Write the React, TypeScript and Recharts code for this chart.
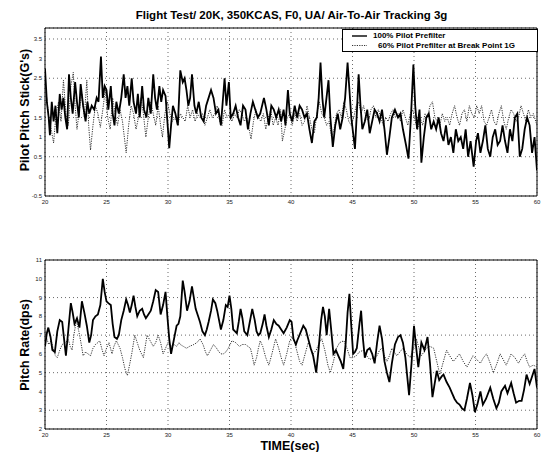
import { LineChart, Line, XAxis, YAxis, CartesianGrid, ReferenceArea } from "recharts";

type Pt = [number, number];

const timeTicks = [20, 25, 30, 35, 40, 45, 50, 55, 60];
const stickTicks = [-0.5, 0, 0.5, 1, 1.5, 2, 2.5, 3, 3.5];
const rateTicks = [2, 3, 4, 5, 6, 7, 8, 9, 10, 11];

// pilot pitch stick, 100% prefilter (solid)
const stick100: Pt[] = [
  [20.0, 2.75], [20.15, 1.9], [20.3, 1.5], [20.4, 1.05], [20.55, 1.9], [20.7, 1.4], [20.85, 1.8], [21.0, 1.1],
  [21.2, 2.1], [21.35, 1.7], [21.5, 2.0], [21.65, 1.5], [21.8, 1.2], [21.95, 2.6], [22.1, 2.0], [22.25, 1.6],
  [22.45, 2.4], [22.6, 1.9], [22.75, 1.5], [22.9, 2.35], [23.1, 1.8], [23.3, 1.4], [23.45, 1.9], [23.6, 1.6],
  [23.8, 1.8], [24.0, 1.7], [24.2, 2.0], [24.35, 1.9], [24.55, 3.05], [24.7, 2.0], [24.85, 2.3], [25.0, 2.2],
  [25.15, 1.7], [25.35, 2.3], [25.5, 1.6], [25.65, 1.3], [25.8, 1.9], [26.0, 1.6], [26.2, 2.0], [26.4, 2.6],
  [26.55, 2.0], [26.7, 2.3], [26.85, 1.8], [27.05, 2.5], [27.2, 1.9], [27.4, 1.6], [27.55, 2.1], [27.7, 1.5],
  [27.9, 2.3], [28.05, 1.7], [28.25, 1.5], [28.4, 2.0], [28.6, 1.6], [28.8, 2.6], [28.95, 2.0], [29.1, 1.7],
  [29.3, 2.3], [29.45, 1.9], [29.6, 2.2], [29.8, 2.05], [29.95, 1.4], [30.1, 0.72], [30.25, 1.3], [30.4, 1.8],
  [30.6, 1.6], [30.8, 1.3], [31.0, 2.7], [31.2, 2.4], [31.35, 2.5], [31.5, 2.2], [31.65, 1.8], [31.8, 2.0],
  [31.95, 2.6], [32.15, 1.8], [32.3, 1.6], [32.5, 1.9], [32.7, 1.5], [32.9, 1.4], [33.1, 1.8], [33.3, 2.0],
  [33.5, 2.2], [33.7, 2.0], [33.9, 1.6], [34.1, 1.7], [34.3, 1.3], [34.45, 1.9], [34.6, 2.5], [34.75, 1.8],
  [34.95, 2.4], [35.1, 1.5], [35.3, 1.6], [35.5, 1.8], [35.7, 1.5], [35.9, 1.3], [36.1, 1.8], [36.3, 1.7],
  [36.5, 1.2], [36.7, 1.6], [36.9, 1.9], [37.1, 1.7], [37.3, 1.5], [37.5, 1.6], [37.8, 2.0], [38.0, 1.7],
  [38.2, 1.3], [38.4, 1.8], [38.6, 1.7], [38.8, 1.5], [39.0, 1.7], [39.2, 1.4], [39.4, 1.7], [39.55, 1.3],
  [39.75, 2.2], [39.9, 1.6], [40.1, 1.4], [40.3, 1.8], [40.5, 1.5], [40.7, 1.8], [40.9, 1.7], [41.1, 1.5],
  [41.3, 1.6], [41.5, 1.2], [41.7, 0.85], [41.9, 1.4], [42.1, 1.5], [42.25, 2.0], [42.4, 2.9], [42.55, 2.0],
  [42.7, 1.5], [42.85, 1.9], [43.05, 2.45], [43.2, 1.5], [43.4, 0.75], [43.6, 1.3], [43.8, 1.6], [44.0, 1.2],
  [44.2, 1.5], [44.4, 2.0], [44.6, 2.9], [44.75, 2.2], [44.9, 1.5], [45.05, 1.1], [45.2, 0.7], [45.35, 1.6],
  [45.5, 2.6], [45.65, 1.8], [45.8, 1.2], [46.0, 1.4], [46.2, 1.7], [46.4, 1.1], [46.6, 1.4], [46.8, 1.7],
  [47.0, 1.6], [47.2, 1.4], [47.4, 1.7], [47.6, 1.2], [47.8, 0.55], [48.0, 1.0], [48.2, 1.5], [48.45, 1.7],
  [48.7, 1.5], [48.9, 1.6], [49.1, 1.2], [49.35, 0.8], [49.55, 0.45], [49.75, 1.5], [49.95, 2.85], [50.1, 1.8],
  [50.25, 1.2], [50.45, 1.7], [50.6, 0.35], [50.8, 1.0], [51.0, 1.5], [51.2, 1.6], [51.4, 1.2], [51.6, 1.4],
  [51.8, 1.2], [52.0, 1.5], [52.2, 1.1], [52.4, 0.9], [52.6, 1.3], [52.8, 0.8], [53.0, 1.0], [53.2, 0.6],
  [53.4, 1.2], [53.6, 0.9], [53.8, 1.0], [54.0, 0.7], [54.2, 1.2], [54.4, 0.5], [54.6, 0.9], [54.85, 0.25],
  [55.05, 0.9], [55.2, 1.1], [55.4, 0.6], [55.6, 0.9], [55.8, 1.3], [56.0, 0.7], [56.2, 0.5], [56.4, 1.0],
  [56.6, 1.2], [56.8, 0.8], [57.0, 0.9], [57.2, 1.3], [57.4, 0.9], [57.6, 0.6], [57.8, 1.2], [58.0, 0.9],
  [58.2, 1.5], [58.4, 1.6], [58.6, 0.5], [58.8, 0.7], [59.0, 1.2], [59.2, 1.5], [59.4, 1.3], [59.6, 0.6],
  [59.8, 1.0], [60.0, 0.15],
];

// pilot pitch stick, 60% prefilter at break point 1G (dotted)
const stick60: Pt[] = [
  [20.0, 1.8], [20.15, 2.0], [20.3, 1.5], [20.5, 1.2], [20.7, 0.85], [20.9, 1.6], [21.1, 1.9], [21.3, 1.4],
  [21.5, 2.45], [21.7, 1.6], [21.9, 1.3], [22.1, 2.3], [22.3, 2.65], [22.45, 1.8], [22.6, 1.2], [22.8, 1.7],
  [23.0, 2.1], [23.2, 1.5], [23.4, 2.45], [23.55, 1.3], [23.7, 0.67], [23.9, 1.3], [24.1, 1.8], [24.3, 1.6],
  [24.5, 1.25], [24.7, 1.7], [24.9, 2.2], [25.1, 1.5], [25.3, 1.2], [25.5, 2.0], [25.7, 1.6], [25.9, 1.3],
  [26.1, 1.7], [26.3, 1.4], [26.45, 1.0], [26.6, 0.6], [26.8, 1.3], [27.0, 1.8], [27.2, 1.6], [27.4, 1.2],
  [27.6, 1.5], [27.8, 2.0], [28.0, 1.6], [28.2, 1.0], [28.4, 1.5], [28.6, 1.9], [28.8, 1.6], [29.0, 1.3],
  [29.2, 1.8], [29.4, 1.3], [29.55, 1.0], [29.75, 1.6], [29.95, 1.9], [30.15, 1.6], [30.35, 1.4], [30.6, 1.5],
  [30.8, 1.3], [31.0, 1.6], [31.2, 1.5], [31.4, 1.4], [31.6, 1.8], [31.8, 1.5], [32.0, 1.7], [32.2, 1.4],
  [32.4, 1.6], [32.6, 1.5], [32.8, 1.6], [33.0, 1.3], [33.2, 1.5], [33.4, 1.7], [33.6, 1.5], [33.8, 1.6],
  [34.0, 1.8], [34.2, 1.4], [34.4, 1.3], [34.6, 1.7], [34.8, 1.5], [35.0, 1.6], [35.2, 1.4], [35.4, 1.6],
  [35.6, 1.5], [35.8, 1.7], [36.0, 1.6], [36.2, 1.4], [36.4, 1.5], [36.6, 1.2], [36.75, 0.95], [36.95, 1.4],
  [37.15, 1.7], [37.35, 1.5], [37.55, 1.4], [37.75, 1.6], [37.95, 1.2], [38.15, 1.5], [38.35, 1.7], [38.55, 1.3],
  [38.75, 1.5], [38.95, 1.3], [39.15, 1.7], [39.3, 0.9], [39.5, 1.2], [39.7, 1.5], [39.9, 1.6], [40.1, 1.3],
  [40.3, 1.6], [40.5, 1.4], [40.7, 1.6], [40.9, 1.3], [41.1, 1.4], [41.3, 1.8], [41.5, 1.5], [41.7, 1.2],
  [41.9, 1.1], [42.1, 1.6], [42.3, 1.9], [42.5, 1.6], [42.7, 1.5], [42.9, 1.3], [43.1, 1.4], [43.3, 1.0],
  [43.5, 1.2], [43.7, 1.6], [43.9, 1.7], [44.1, 1.5], [44.3, 1.9], [44.5, 1.7], [44.7, 1.4], [44.9, 1.3],
  [45.1, 1.5], [45.3, 1.8], [45.5, 1.9], [45.7, 1.6], [45.9, 1.8], [46.1, 1.5], [46.3, 1.4], [46.5, 1.7],
  [46.7, 1.8], [46.9, 1.5], [47.1, 1.7], [47.3, 1.5], [47.5, 1.3], [47.7, 1.5], [47.9, 1.4], [48.1, 1.6],
  [48.3, 1.7], [48.5, 1.5], [48.7, 1.6], [48.9, 1.4], [49.1, 1.7], [49.3, 1.5], [49.5, 1.3], [49.7, 1.6],
  [49.9, 1.7], [50.1, 1.4], [50.3, 1.2], [50.5, 1.5], [50.7, 1.3], [50.9, 1.6], [51.1, 1.5], [51.3, 1.8],
  [51.5, 1.9], [51.7, 1.5], [51.9, 1.4], [52.1, 1.3], [52.3, 1.6], [52.5, 1.4], [52.7, 1.5], [52.9, 1.3],
  [53.1, 1.6], [53.3, 1.8], [53.5, 1.5], [53.7, 1.3], [53.9, 1.6], [54.1, 1.7], [54.3, 1.4], [54.5, 1.8],
  [54.7, 1.6], [54.9, 1.5], [55.1, 1.8], [55.3, 1.6], [55.5, 1.8], [55.7, 1.4], [55.9, 1.3], [56.1, 1.5],
  [56.3, 1.7], [56.5, 1.4], [56.7, 1.3], [56.9, 1.6], [57.1, 1.8], [57.3, 1.4], [57.5, 1.2], [57.7, 1.5],
  [57.9, 1.7], [58.1, 1.6], [58.3, 1.4], [58.5, 1.5], [58.7, 1.8], [58.9, 1.6], [59.1, 1.4], [59.3, 1.7],
  [59.5, 1.5], [59.7, 1.6], [59.9, 1.4], [60.0, 1.3],
];

// pitch rate, 100% prefilter (solid)
const rate100: Pt[] = [
  [20.0, 6.4], [20.15, 7.1], [20.27, 7.4], [20.45, 6.9], [20.6, 6.2], [20.8, 6.1], [21.0, 7.2], [21.2, 7.8],
  [21.4, 7.7], [21.55, 6.8], [21.7, 5.9], [21.9, 7.3], [22.1, 8.7], [22.25, 8.2], [22.4, 7.6], [22.6, 7.9],
  [22.8, 7.4], [23.0, 8.8], [23.2, 8.2], [23.4, 7.5], [23.6, 6.6], [23.75, 7.0], [23.9, 7.8], [24.1, 8.0],
  [24.3, 8.1], [24.5, 8.6], [24.7, 10.0], [24.85, 9.3], [25.0, 8.8], [25.15, 8.7], [25.35, 8.6], [25.5, 7.6],
  [25.65, 6.9], [25.85, 6.8], [26.0, 7.0], [26.2, 7.8], [26.4, 8.3], [26.6, 8.9], [26.75, 8.6], [26.9, 8.2],
  [27.05, 8.6], [27.2, 9.1], [27.35, 8.5], [27.5, 8.0], [27.7, 8.3], [27.9, 8.4], [28.05, 8.1], [28.2, 7.9],
  [28.4, 8.1], [28.6, 8.3], [28.8, 8.8], [29.0, 9.4], [29.2, 9.3], [29.4, 8.1], [29.6, 8.6], [29.8, 9.3],
  [29.95, 8.0], [30.1, 6.8], [30.25, 6.0], [30.4, 6.5], [30.55, 7.0], [30.7, 7.5], [30.85, 7.6], [31.0, 8.0],
  [31.2, 9.9], [31.35, 9.3], [31.55, 8.3], [31.75, 8.8], [31.95, 9.6], [32.1, 9.0], [32.25, 8.4], [32.45, 8.0],
  [32.6, 7.7], [32.8, 7.2], [33.0, 7.0], [33.15, 7.3], [33.3, 7.7], [33.5, 8.3], [33.65, 8.9], [33.85, 8.7],
  [34.0, 8.3], [34.15, 7.8], [34.3, 7.3], [34.5, 7.8], [34.7, 8.6], [34.85, 8.5], [35.0, 9.1], [35.15, 8.4],
  [35.3, 7.3], [35.45, 7.2], [35.6, 7.1], [35.75, 7.7], [35.9, 8.4], [36.05, 7.9], [36.2, 7.2], [36.45, 7.0],
  [36.65, 7.7], [36.85, 8.4], [37.05, 7.8], [37.2, 7.2], [37.35, 7.0], [37.5, 7.1], [37.7, 7.6], [37.85, 8.1],
  [38.0, 7.5], [38.2, 6.9], [38.4, 7.3], [38.6, 7.8], [38.8, 7.6], [39.0, 7.5], [39.2, 7.3], [39.4, 7.1],
  [39.65, 7.4], [39.9, 7.8], [40.05, 7.7], [40.2, 6.8], [40.4, 6.5], [40.5, 6.7], [40.75, 7.1], [41.0, 7.5],
  [41.2, 7.3], [41.4, 6.8], [41.6, 6.3], [41.8, 5.9], [42.05, 5.0], [42.25, 6.3], [42.45, 7.8], [42.6, 8.5],
  [42.75, 8.0], [42.9, 7.0], [43.1, 8.4], [43.25, 7.4], [43.45, 6.0], [43.65, 6.2], [43.85, 5.9], [44.05, 5.6],
  [44.25, 5.2], [44.45, 6.6], [44.6, 8.2], [44.75, 9.2], [44.9, 7.5], [45.05, 6.0], [45.2, 6.1], [45.35, 6.3],
  [45.55, 7.5], [45.7, 8.3], [45.85, 6.8], [46.0, 5.8], [46.2, 6.2], [46.4, 6.3], [46.6, 6.0], [46.8, 5.5],
  [47.0, 6.6], [47.2, 7.5], [47.4, 6.8], [47.6, 5.6], [47.8, 5.0], [48.0, 4.5], [48.2, 5.5], [48.45, 6.5],
  [48.7, 6.9], [48.9, 7.0], [49.1, 6.6], [49.3, 5.8], [49.45, 4.8], [49.6, 3.8], [49.8, 5.5], [50.0, 7.5],
  [50.15, 6.5], [50.35, 5.3], [50.6, 6.6], [50.85, 6.2], [51.1, 6.9], [51.3, 5.5], [51.5, 3.7], [51.7, 4.5],
  [51.85, 5.1], [52.05, 4.6], [52.25, 4.8], [52.4, 4.9], [52.65, 4.5], [52.9, 4.2], [53.1, 3.9], [53.3, 3.6],
  [53.5, 3.4], [53.7, 3.3], [53.9, 3.1], [54.1, 3.0], [54.3, 3.6], [54.55, 4.45], [54.75, 3.8], [54.95, 2.9],
  [55.15, 3.3], [55.4, 4.0], [55.6, 3.3], [55.85, 3.6], [56.2, 4.2], [56.45, 3.6], [56.7, 3.1], [56.9, 3.4],
  [57.1, 4.0], [57.4, 4.3], [57.6, 3.9], [57.9, 4.45], [58.1, 3.9], [58.3, 3.4], [58.55, 3.5], [58.75, 3.5],
  [58.95, 4.1], [59.15, 4.9], [59.4, 4.4], [59.6, 4.8], [59.8, 5.2], [60.0, 4.2],
];

// pitch rate, 60% prefilter (dotted)
const rate60: Pt[] = [
  [20.0, 7.2], [20.15, 6.8], [20.3, 6.5], [20.5, 6.7], [20.7, 6.2], [20.85, 5.9], [21.0, 5.8], [21.2, 6.2],
  [21.4, 6.5], [21.65, 6.6], [21.9, 6.75], [22.05, 6.4], [22.2, 6.2], [22.35, 7.0], [22.55, 7.8], [22.75, 7.2],
  [22.95, 6.5], [23.1, 5.9], [23.3, 6.1], [23.5, 6.0], [23.7, 5.9], [23.9, 6.3], [24.1, 6.5], [24.3, 6.6],
  [24.45, 6.7], [24.65, 6.2], [24.8, 5.9], [25.0, 6.3], [25.2, 6.6], [25.45, 6.0], [25.6, 6.4], [25.8, 6.7],
  [25.95, 6.5], [26.1, 6.3], [26.3, 5.8], [26.5, 5.2], [26.7, 4.85], [26.9, 5.5], [27.05, 6.0], [27.2, 6.6],
  [27.3, 7.0], [27.5, 6.6], [27.7, 6.2], [27.85, 6.0], [28.0, 5.8], [28.15, 6.4], [28.3, 7.0], [28.55, 6.7],
  [28.8, 6.4], [29.0, 6.6], [29.2, 7.0], [29.4, 6.6], [29.6, 6.0], [29.8, 6.3], [30.0, 6.6], [30.15, 6.5],
  [30.3, 6.4], [30.5, 6.5], [30.7, 6.4], [30.9, 6.6], [31.0, 6.5], [31.25, 6.4], [31.5, 6.3], [31.75, 6.4],
  [32.1, 6.5], [32.35, 6.6], [32.6, 6.8], [32.85, 6.5], [33.05, 6.1], [33.2, 5.9], [33.45, 6.2], [33.7, 6.5],
  [33.95, 6.3], [34.15, 6.1], [34.3, 6.0], [34.5, 6.0], [34.7, 6.1], [34.9, 6.3], [35.2, 6.7], [35.5, 6.6],
  [35.8, 6.4], [36.05, 6.5], [36.3, 6.5], [36.5, 6.4], [36.7, 6.3], [36.85, 5.9], [37.0, 5.4], [37.2, 5.8],
  [37.35, 6.3], [37.5, 6.7], [37.7, 6.4], [37.95, 5.8], [38.2, 5.4], [38.45, 6.0], [38.75, 6.8], [39.0, 6.3],
  [39.2, 5.8], [39.4, 5.4], [39.65, 6.0], [39.9, 6.7], [40.1, 6.9], [40.3, 6.6], [40.5, 6.1], [40.7, 5.6],
  [40.9, 5.4], [41.15, 6.0], [41.4, 6.6], [41.6, 6.3], [41.8, 6.0], [42.05, 6.2], [42.3, 6.6], [42.5, 6.8],
  [42.75, 6.2], [43.0, 5.4], [43.2, 5.0], [43.45, 5.6], [43.7, 6.3], [43.95, 6.6], [44.3, 6.7], [44.55, 6.3],
  [44.8, 5.8], [45.05, 5.8], [45.3, 5.9], [45.55, 6.1], [45.9, 6.2], [46.15, 5.9], [46.4, 5.7], [46.7, 5.8],
  [47.0, 5.9], [47.2, 6.2], [47.4, 6.3], [47.6, 5.9], [47.8, 5.6], [48.0, 5.9], [48.2, 6.3], [48.4, 6.1],
  [48.6, 5.9], [48.85, 6.1], [49.1, 6.3], [49.4, 6.0], [49.7, 5.8], [49.95, 6.3], [50.2, 6.8], [50.4, 6.3],
  [50.6, 5.9], [50.8, 6.1], [51.0, 6.3], [51.3, 6.4], [51.6, 6.3], [51.85, 5.6], [52.1, 4.9], [52.35, 5.5],
  [52.65, 6.2], [52.9, 5.9], [53.2, 5.6], [53.45, 5.8], [53.7, 6.0], [54.0, 5.6], [54.3, 5.3], [54.55, 5.6],
  [54.8, 5.9], [55.1, 5.7], [55.4, 5.5], [55.65, 5.8], [55.9, 6.0], [56.2, 5.5], [56.45, 5.0], [56.75, 5.5],
  [57.0, 6.0], [57.25, 5.7], [57.5, 5.4], [57.7, 5.7], [57.9, 6.0], [58.2, 5.8], [58.5, 5.5], [58.75, 5.8],
  [59.0, 6.0], [59.2, 5.6], [59.4, 5.3], [59.7, 5.4], [60.0, 5.3],
];

const FONT = '"Liberation Sans", Arial, Helvetica, sans-serif';
const tickStyle = { fontSize: 6, fill: "#222", fontFamily: FONT };

const toRows = (pts: Pt[]) => pts.map(([t, v]) => ({ t, v }));

type PanelProps = {
  top: number;
  height: number;
  solid: Pt[];
  dotted: Pt[];
  yDomain: [number, number];
  yTicks: number[];
};

function Panel({ top, height, solid, dotted, yDomain, yTicks }: PanelProps) {
  return (
    <div style={{ position: "absolute", left: 0, top }}>
      <LineChart width={545} height={height} margin={{ top: 28, right: 8, bottom: 5, left: 15 }}>
        <CartesianGrid stroke="#444" strokeDasharray="1 3" strokeWidth={0.8} />
        <XAxis
          type="number"
          dataKey="t"
          domain={[20, 60]}
          ticks={timeTicks}
          allowDataOverflow
          axisLine={false}
          tickLine={false}
          tickSize={0}
          tickMargin={4}
          height={14}
          tick={tickStyle}
        />
        <YAxis
          type="number"
          dataKey="v"
          domain={yDomain}
          ticks={yTicks}
          allowDataOverflow
          axisLine={false}
          tickLine={false}
          tickSize={0}
          tickMargin={3}
          width={30}
          tick={tickStyle}
        />
        <Line
          data={toRows(dotted)}
          dataKey="v"
          type="linear"
          stroke="#333"
          strokeWidth={1}
          strokeDasharray="1.2 1.2"
          dot={false}
          isAnimationActive={false}
        />
        <Line
          data={toRows(solid)}
          dataKey="v"
          type="linear"
          stroke="#000"
          strokeWidth={1.8}
          dot={false}
          isAnimationActive={false}
        />
        <ReferenceArea
          x1={20}
          x2={60}
          y1={yDomain[0]}
          y2={yDomain[1]}
          fill="none"
          fillOpacity={0}
          stroke="#000"
          strokeWidth={1}
        />
      </LineChart>
    </div>
  );
}

const yLabel = (text: string, cy: number) => (
  <div
    style={{
      position: "absolute",
      left: 25,
      top: cy,
      transform: "translate(-50%, -50%) rotate(-90deg)",
      whiteSpace: "nowrap",
      fontWeight: 700,
      fontSize: 12.5,
    }}
  >
    {text}
  </div>
);

export default function App() {
  return (
    <div
      style={{
        position: "absolute",
        left: 0,
        top: 0,
        width: 545,
        height: 452,
        background: "#fff",
        fontFamily: FONT,
        color: "#000",
        overflow: "hidden",
      }}
    >
      <div
        style={{
          position: "absolute",
          left: 0,
          width: 583,
          top: 9,
          textAlign: "center",
          fontWeight: 700,
          fontSize: 11.5,
          whiteSpace: "nowrap",
        }}
      >
        Flight Test/ 20K, 350KCAS, F0, UA/ Air-To-Air Tracking 3g
      </div>

      <Panel top={0} height={215} solid={stick100} dotted={stick60} yDomain={[-0.5, 3.78]} yTicks={stickTicks} />
      <Panel top={232} height={216} solid={rate100} dotted={rate60} yDomain={[2, 11]} yTicks={rateTicks} />

      {yLabel("Pilot Pitch Stick(G's)", 110)}
      {yLabel("Pitch Rate(dps)", 345)}

      <div
        style={{
          position: "absolute",
          left: 0,
          width: 580,
          top: 440,
          lineHeight: "12px",
          textAlign: "center",
          fontWeight: 700,
          fontSize: 12.5,
        }}
      >
        TIME(sec)
      </div>

      {/* legend box */}
      <div
        style={{
          position: "absolute",
          left: 342,
          top: 29,
          width: 194,
          height: 21,
          border: "1px solid #000",
          background: "#fff",
          fontSize: 8,
          fontWeight: 700,
        }}
      >
        <svg width={194} height={21} style={{ position: "absolute", left: 0, top: 0 }}>
          <line x1={9} x2={24} y1={6} y2={6} stroke="#000" strokeWidth={1.4} />
          <line x1={9} x2={24} y1={15.5} y2={15.5} stroke="#333" strokeWidth={1} strokeDasharray="1.2 1.2" />
        </svg>
        <div style={{ position: "absolute", left: 30, top: 1, whiteSpace: "nowrap" }}>100% Pilot Prefilter</div>
        <div style={{ position: "absolute", left: 35, top: 10.5, whiteSpace: "nowrap" }}>
          60% Pilot Prefilter at Break Point 1G
        </div>
      </div>
    </div>
  );
}
